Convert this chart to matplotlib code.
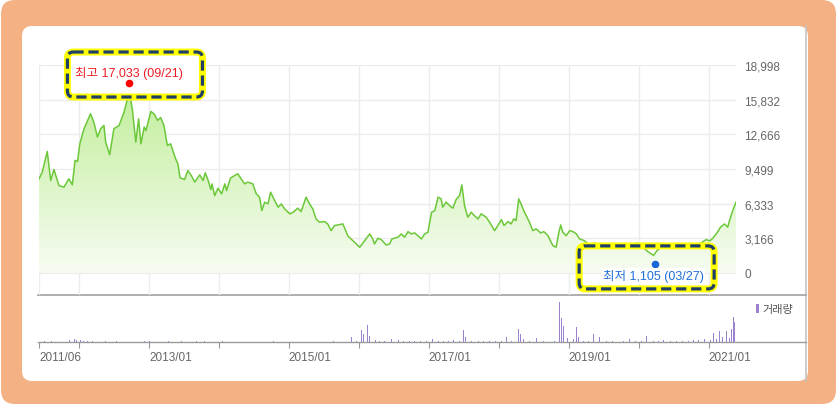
import matplotlib
matplotlib.use("Agg")
import matplotlib.pyplot as plt
import matplotlib.dates as mdates
from matplotlib.patches import FancyBboxPatch, Rectangle, PathPatch
from matplotlib.path import Path
from matplotlib.colors import LinearSegmentedColormap
import numpy as np
import pandas as pd

plt.rcParams['font.family'] = ['Liberation Sans', 'Noto Sans CJK KR']

# ---- data ----
price_dates = [
    '2011-06-07', '2011-06-24', '2011-07-20', '2011-08-07', '2011-08-24', '2011-09-19', '2011-10-15',
    '2011-11-10', '2011-11-28', '2011-12-12', '2011-12-25', '2012-01-06', '2012-01-28', '2012-03-02',
    '2012-03-19', '2012-04-07', '2012-04-24', '2012-05-11', '2012-05-20', '2012-06-10', '2012-07-02',
    '2012-07-29', '2012-08-24', '2012-09-21', '2012-10-07', '2012-10-24', '2012-11-08', '2012-11-20',
    '2012-12-07', '2012-12-16', '2013-01-11', '2013-01-29', '2013-02-15', '2013-03-03', '2013-03-20',
    '2013-04-07', '2013-04-24', '2013-05-20', '2013-06-01', '2013-06-12', '2013-07-06', '2013-07-23',
    '2013-08-10', '2013-08-28', '2013-09-23', '2013-10-10', '2013-10-22', '2013-11-06', '2013-11-20',
    '2013-11-26', '2013-12-10', '2013-12-27', '2014-01-15', '2014-02-01', '2014-02-10', '2014-03-02',
    '2014-03-23', '2014-04-10', '2014-04-27', '2014-05-15', '2014-06-01', '2014-06-27', '2014-07-15',
    '2014-08-01', '2014-08-13', '2014-08-28', '2014-09-14', '2014-09-28', '2014-10-19', '2014-11-06',
    '2014-11-23', '2014-12-10', '2015-01-06', '2015-01-23', '2015-02-17', '2015-03-06', '2015-04-01',
    '2015-04-19', '2015-05-06', '2015-05-23', '2015-06-10', '2015-07-06', '2015-07-23', '2015-08-10',
    '2015-08-27', '2015-10-10', '2015-11-06', '2015-12-01', '2016-01-06', '2016-02-01', '2016-02-27',
    '2016-03-14', '2016-03-23', '2016-04-10', '2016-04-27', '2016-05-23', '2016-06-10', '2016-06-22',
    '2016-07-23', '2016-08-10', '2016-08-27', '2016-09-14', '2016-10-01', '2016-10-19', '2016-11-23',
    '2016-12-10', '2016-12-27', '2017-01-15', '2017-02-01', '2017-02-18', '2017-03-06', '2017-03-14',
    '2017-04-01', '2017-04-19', '2017-05-06', '2017-05-23', '2017-06-10', '2017-06-22', '2017-07-06',
    '2017-07-23', '2017-08-10', '2017-08-27', '2017-09-14', '2017-10-01', '2017-10-27', '2017-11-14',
    '2017-12-10', '2017-12-27', '2018-01-15', '2018-01-28', '2018-02-18', '2018-03-06', '2018-03-20',
    '2018-04-01', '2018-04-15', '2018-04-27', '2018-05-15', '2018-06-10', '2018-06-27', '2018-07-15',
    '2018-08-07', '2018-08-24', '2018-09-14', '2018-10-10', '2018-10-27', '2018-11-09', '2018-11-20',
    '2018-12-01', '2018-12-19', '2019-01-06', '2019-01-23', '2019-02-10', '2019-02-27', '2019-03-23',
    '2019-04-19', '2019-05-15', '2019-06-10', '2019-07-06', '2019-08-10', '2019-10-01', '2019-11-06',
    '2019-12-27', '2020-01-23', '2020-02-18', '2020-03-19', '2020-04-05', '2020-04-27', '2020-06-19',
    '2020-08-10', '2020-10-01', '2020-11-22', '2020-12-18', '2021-01-06', '2021-01-22', '2021-02-15',
    '2021-03-03', '2021-03-24', '2021-04-10', '2021-04-19', '2021-05-06', '2021-05-23',
]
price_values = [
    8600, 9215, 11100, 8450, 9450, 7990, 7840,
    8600, 8050, 10280, 10180, 11800, 13180, 14550,
    13790, 12420, 13180, 13480, 11960, 10800, 13180,
    13480, 14700, 16600, 14850, 11960, 14090, 11800,
    13330, 13000, 14760, 14500, 13940, 14200, 13480,
    11650, 11800, 10430, 9970, 8700, 8540, 9360,
    8900, 8300, 8970, 8450, 9150, 8450, 7620,
    8140, 7070, 7750, 7230, 8140, 7530, 8660,
    8900, 9060, 8600, 8140, 8300, 8140, 7230,
    6930, 5700, 6470, 6310, 7380, 6620, 6010,
    6310, 5860, 5400, 5550, 5920, 5610, 6930,
    6310, 5860, 4940, 4640, 4700, 4480, 3870,
    4330, 4480, 3360, 2960, 2350, 2960, 3570,
    3110, 2650, 3175, 3050, 2560, 2650, 3110,
    3265, 3570, 3265, 3780, 3570, 3660, 3110,
    3570, 3720, 5550, 5700, 6930, 6770, 6010,
    6470, 6160, 5920, 6710, 7070, 8050, 6160,
    5100, 5550, 5240, 4940, 5400, 5100, 4640,
    3870, 4330, 4880, 4330, 4700, 4480, 4940,
    4790, 6770, 6310, 5550, 4640, 3870, 4030,
    3660, 3780, 3415, 2500, 2350, 3570, 4390,
    3720, 3415, 3870, 3780, 3570, 3110, 2960,
    2560, 2745, 2560, 2500, 2600, 2440, 2560,
    2745, 2350, 1950, 1600, 2040, 2350, 2470,
    2560, 2470, 2745, 3050, 2930, 3175, 3720,
    4180, 4480, 4180, 4790, 5700, 6470,
]

vol_dates = [
    '2011-07-05', '2011-08-10', '2011-11-15', '2011-12-10', '2011-12-20', '2012-01-10', '2012-01-25',
    '2012-02-15', '2012-03-10', '2012-05-20', '2012-07-15', '2012-10-20', '2012-11-10', '2012-12-10',
    '2013-01-05', '2013-03-10', '2013-04-15', '2013-06-20', '2013-09-05', '2013-10-20', '2014-01-20',
    '2014-10-15', '2015-08-20', '2015-11-23', '2015-12-02', '2015-12-20', '2016-01-15', '2016-01-26',
    '2016-02-16', '2016-02-25', '2016-03-10', '2016-03-30', '2016-04-20', '2016-05-15', '2016-06-19',
    '2016-07-25', '2016-08-20', '2016-09-20', '2016-10-20', '2016-11-20', '2016-12-20', '2017-01-22',
    '2017-02-20', '2017-03-20', '2017-04-15', '2017-05-10', '2017-06-10', '2017-07-01', '2017-07-10',
    '2017-08-10', '2017-09-15', '2017-10-15', '2017-11-15', '2017-12-15', '2018-01-15', '2018-02-09',
    '2018-03-10', '2018-04-16', '2018-04-25', '2018-05-10', '2018-06-10', '2018-07-19', '2018-08-20',
    '2018-09-20', '2018-10-20', '2018-11-12', '2018-11-16', '2018-11-26', '2018-12-05', '2018-12-26',
    '2019-01-28', '2019-02-12', '2019-02-22', '2019-03-20', '2019-04-15', '2019-05-12', '2019-06-12',
    '2019-07-15', '2019-08-15', '2019-09-15', '2019-10-15', '2019-11-13', '2019-12-15', '2020-01-15',
    '2020-02-09', '2020-03-20', '2020-04-15', '2020-05-12', '2020-06-15', '2020-07-15', '2020-08-15',
    '2020-09-15', '2020-10-15', '2020-11-10', '2020-12-10', '2021-01-10', '2021-01-25', '2021-02-10',
    '2021-02-25', '2021-03-15', '2021-04-05', '2021-04-20', '2021-04-30', '2021-05-10', '2021-05-15',
    '2021-05-23',
]
vol_values = [
    100, 80, 200, 300, 200, 250, 150,
    150, 100, 100, 100, 150, 150, 150,
    100, 150, 100, 100, 100, 100, 100,
    80, 80, 500, 300, 150, 1200, 800,
    1700, 600, 300, 200, 100, 100, 300,
    200, 100, 100, 100, 100, 100, 300,
    150, 100, 100, 200, 150, 1200, 500,
    150, 100, 100, 100, 100, 100, 500,
    100, 1300, 800, 300, 150, 400, 100,
    100, 150, 2000, 4000, 2400, 1600, 400,
    300, 1500, 500, 100, 100, 800, 500,
    100, 100, 100, 100, 300, 100, 100,
    600, 150, 100, 200, 100, 100, 100,
    150, 200, 250, 300, 200, 900, 300,
    1100, 500, 1100, 400, 1300, 2500, 2000,
    3600,
]

y_ticks = [0, 3166, 6333, 9499, 12666, 15832, 18998]
x_tick_dates = ['2011-06-07', '2012-01-01', '2013-01-01', '2014-01-01', '2015-01-01', '2016-01-01',
                '2017-01-01', '2018-01-01', '2019-01-01', '2020-01-01', '2021-01-01']
x_tick_labels = ['2011/06', '', '2013/01', '', '2015/01', '', '2017/01', '', '2019/01', '', '2021/01']

high_date, high_value, high_label = '2012-09-21', 17033, '최고 17,033 (09/21)'
low_date, low_value, low_label = '2020-03-27', 1105, '최저 1,105 (03/27)'

# ---- figure ----
W, H = 837, 406
fig = plt.figure(figsize=(W / 100, H / 100), dpi=100)
fig.patch.set_facecolor('white')

# pixel canvas for the frame
bg = fig.add_axes([0, 0, 1, 1], zorder=0)
bg.set_xlim(0, W)
bg.set_ylim(H, 0)
bg.axis('off')
bg.add_patch(FancyBboxPatch((1, 1), W - 2, H - 2, boxstyle='round,pad=0,rounding_size=14',
                            fc='#f4b183', ec='none'))
bg.add_patch(FancyBboxPatch((22, 27), 786, 355, boxstyle='round,pad=0,rounding_size=10',
                            fc='white', ec='none'))
bg.plot([806.5, 806.5], [27, 382], color='#c4c4c4', lw=1.2)
bg.plot([38, 806], [296, 296], color='#a8a8a8', lw=1.3)
bg.plot([38, 806], [343, 343], color='#9a9a9a', lw=1.0)

vol_color = '#9b82cf'
bg.add_patch(Rectangle((756, 305), 3, 9, fc=vol_color, ec='none'))
bg.text(762, 310, '거래량', fontsize=8, color='#555555', va='center', ha='left')

# ---- price panel ----
ax = fig.add_axes([39 / W, 1 - 296 / H, (736 - 39) / W, (296 - 66) / H], zorder=2)
ax.patch.set_alpha(0)

xd = mdates.date2num(pd.to_datetime(price_dates))
vals = np.array(price_values, dtype=float)
xticks = mdates.date2num(pd.to_datetime(x_tick_dates))

poly = np.column_stack([np.r_[xd[0], xd, xd[-1]], np.r_[0, vals, 0]])
clip = PathPatch(Path(poly), fc='none', ec='none')
ax.add_patch(clip)
grad = np.linspace(0, 1, 256).reshape(-1, 1)
cmap = LinearSegmentedColormap.from_list('g', ['#f7fcf2', '#c2ee9c'])
im = ax.imshow(grad, extent=[xd[0], xd[-1], 0, vals.max()], origin='lower',
               aspect='auto', cmap=cmap, zorder=1)
im.set_clip_path(clip)
ax.plot(xd, vals, color='#6cc83a', lw=1.1, zorder=3)

ax.set_xlim(xd[0], xd[-1])
ax.set_ylim(-2010, 18998)
ax.set_yticks(y_ticks)
ax.set_yticklabels([f'{v:,}' for v in y_ticks])
ax.yaxis.tick_right()
ax.tick_params(axis='y', length=0, pad=6, labelsize=8.5, labelcolor='#666666')
ax.set_xticks(xticks)
ax.tick_params(axis='x', length=0, labelbottom=False)
ax.grid(True, color='#ececec', lw=1.0, zorder=0)
ax.set_axisbelow(True)
for s in ax.spines.values():
    s.set_visible(False)

# ---- volume panel ----
ax2 = fig.add_axes([39 / W, 1 - 343 / H, (736 - 39) / W, (343 - 296) / H], zorder=2)
ax2.patch.set_alpha(0)
ax2.bar(pd.to_datetime(vol_dates), vol_values, width=5, color=vol_color, lw=0)
ax2.set_xlim(xd[0], xd[-1])
ax2.set_ylim(0, 4700)
ax2.set_yticks([])
ax2.set_xticks(xticks)
ax2.set_xticklabels(x_tick_labels, ha='left')
ax2.tick_params(axis='x', length=4.5, color='#999999', pad=2, labelsize=8.5, labelcolor='#666666')
for s in ax2.spines.values():
    s.set_visible(False)

# ---- high / low markers with highlight boxes ----
ov = fig.add_axes([0, 0, 1, 1], zorder=5)
ov.set_xlim(0, W)
ov.set_ylim(H, 0)
ov.axis('off')


def to_px(d, v):
    x, y = ax.transData.transform((mdates.date2num(pd.Timestamp(d)), v))
    return x, H - y


def hbox(x0, y0, x1, y1, fill):
    ov.add_patch(FancyBboxPatch((x0, y0), x1 - x0, y1 - y0, boxstyle='round,pad=0,rounding_size=6',
                                fc='white' if fill else 'none', ec='#ffff00', lw=5))
    ov.add_patch(FancyBboxPatch((x0, y0), x1 - x0, y1 - y0, boxstyle='round,pad=0,rounding_size=6',
                                fc='none', ec='#1f3f66', lw=2.3, ls=(0, (3.2, 1.5))))


hx, hy = to_px(high_date, high_value)
hbox(hx - 62, hy - 34.5, hx + 73, hy + 10.5, True)
ov.plot(hx, hy - 3.5, 'o', color='#ff0000', ms=5.5, mec='none')
ov.text(hx, hy - 14.5, high_label, color='#ee1c25', fontsize=9, ha='center', va='center')

lx, ly = to_px(low_date, low_value)
hbox(lx - 76, ly - 15, lx + 59, ly + 28, False)
ov.plot(lx, ly + 3.5, 'o', color='#1a66d6', ms=5.5, mec='none')
ov.text(lx - 2, ly + 15, low_label, color='#1f6fd8', fontsize=9, ha='center', va='center',
        bbox=dict(fc='white', ec='none', pad=1))

fig.savefig('out.png', dpi=100)
